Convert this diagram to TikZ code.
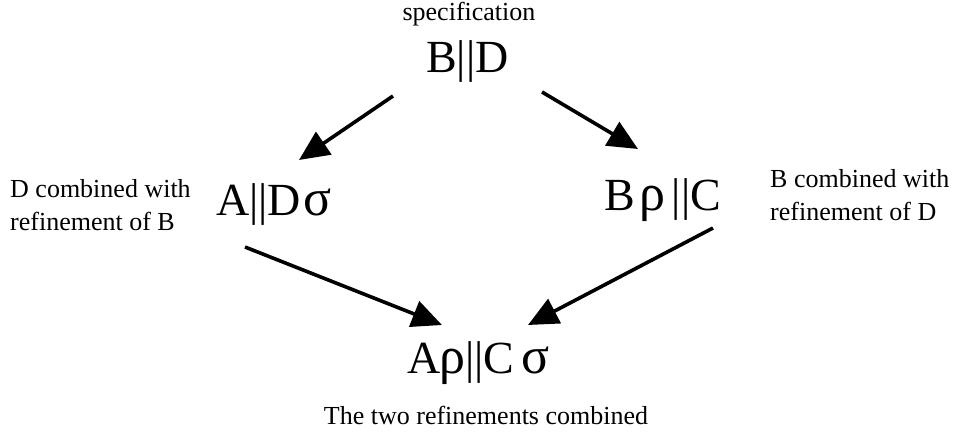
\documentclass[tikz,border=0pt]{standalone}
\usepackage{fontspec}
\setmainfont{Liberation Serif}
\usetikzlibrary{arrows.meta,calc}

% larger Greek letters, as in the formula font
\newcommand{\grk}[1]{{\fontsize{52}{52}\selectfont #1}}

\tikzset{
  note/.style={inner sep=0pt, font=\fontsize{26}{33}\selectfont},
  term/.style={inner sep=0pt, anchor=base west, font=\fontsize{46}{50}\selectfont},
  refine/.style={line width=3.6pt, -{Triangle[length=30pt,width=27pt]}}
}

\begin{document}
\begin{tikzpicture}[x=1pt,y=-1pt]
  \useasboundingbox (0,0) rectangle (955,434);

  % captions
  \node[note, anchor=base] (spec) at (469,20) {specification};
  \node[note, anchor=base] (both) at (486,424) {The two refinements combined};
  \node[note, anchor=base west] (leftnote) at (10,197)
    {\begin{tabular}[t]{@{}l@{}}D combined with\\refinement of B\end{tabular}};
  \node[note, anchor=base west] (rightnote) at (770,187)
    {\begin{tabular}[t]{@{}l@{}}B combined with\\refinement of D\end{tabular}};

  % compositions
  \node[term] (bd)  at (426,72)  {B||D};
  \node[term] (ad)  at (216,215) {A||D\kern2pt\grk{σ}};
  \node[term] (br)  at (604,210) {B\kern5pt\grk{ρ}\kern6pt||C};
  \node[term] (arc) at (407,373) {A\kern-1pt\grk{ρ}||C\kern7pt\grk{σ}};

  % refinement steps
  \draw[refine] ($(bd.base west)+(-33,24)$) -- ($(ad.base west)+(83,-55)$);
  \draw[refine] ($(bd.base west)+(116,20)$) -- ($(br.base west)+(34,-61)$);
  \draw[refine] ($(ad.base west)+(29,32)$) -- ($(arc.base west)+(35,-48)$);
  \draw[refine] ($(br.base west)+(109,18)$) -- ($(arc.base west)+(121,-48)$);
\end{tikzpicture}
\end{document}
